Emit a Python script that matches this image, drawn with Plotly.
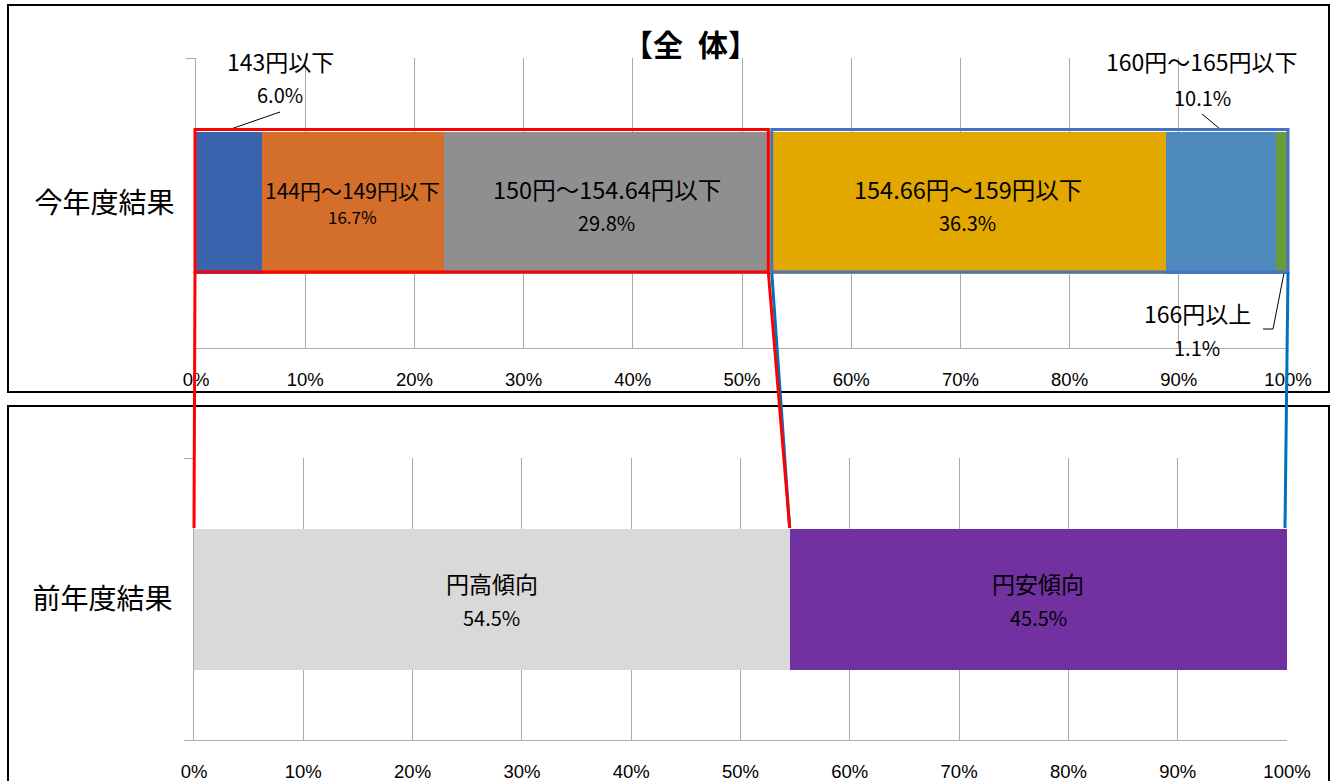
import plotly.graph_objects as go

# ---------------- data ----------------
this_year_labels = ["143円以下", "144円～149円以下", "150円～154.64円以下",
                    "154.66円～159円以下", "160円～165円以下", "166円以上"]
this_year_values = [6.0, 16.7, 29.8, 36.3, 10.1, 1.1]
this_year_colors = ["#3A63AD", "#D46F2B", "#8F8F8F", "#E2A800", "#4E89BD", "#6A9A3A"]

last_year_labels = ["円高傾向", "円安傾向"]
last_year_values = [54.5, 45.5]
last_year_colors = ["#D9D9D9", "#7131A0"]

cat_top = "今年度結果"
cat_bottom = "前年度結果"
title_text = "【全\u2002体】"
tick_vals = list(range(0, 101, 10))
tick_text = [f"{v}%" for v in tick_vals]

# ---------------- layout helpers ----------------
W, H = 1332, 781
def px(x): return x / W
def py(y): return 1 - y / H

XT0, XT1, YT0, YT1 = 196, 1288, 58, 348      # top plot area (pixels)
XB0, XB1, YB0, YB1 = 194, 1287, 458, 740     # bottom plot area (pixels)
def xt(v): return XT0 + v / 100 * (XT1 - XT0)
def xb(v): return XB0 + v / 100 * (XB1 - XB0)

JP = "Noto Sans CJK JP"
TICKF = "Liberation Sans, Arial"

fig = go.Figure()

for lab, val, col in zip(this_year_labels, this_year_values, this_year_colors):
    fig.add_trace(go.Bar(x=[val], y=[cat_top], orientation="h", name=lab,
                         marker=dict(color=col, line=dict(width=0)), width=0.49,
                         xaxis="x", yaxis="y", hoverinfo="skip"))
for lab, val, col in zip(last_year_labels, last_year_values, last_year_colors):
    fig.add_trace(go.Bar(x=[val], y=[cat_bottom], orientation="h", name=lab,
                         marker=dict(color=col, line=dict(width=0)), width=0.5,
                         xaxis="x2", yaxis="y2", hoverinfo="skip"))

grid = "#ABABAB"
xcommon = dict(range=[0, 100], tickmode="array", tickvals=tick_vals, ticktext=tick_text,
               showgrid=True, gridcolor=grid, gridwidth=1, showline=True, linecolor=grid,
               linewidth=1, zeroline=False, ticks="", ticklabelstandoff=15, automargin=False,
               tickfont=dict(family=TICKF, size=18.5, color="#000"), fixedrange=True)
ycommon = dict(type="category", range=[-0.5, 0.5], showgrid=False, showline=True,
               linecolor=grid, linewidth=1, ticks="outside", tickson="boundaries",
               ticklen=9, tickcolor=grid, ticklabelstandoff=15, automargin=False,
               tickfont=dict(family=JP, size=28, color="#000"), fixedrange=True)

fig.update_layout(
    width=W, height=H, autosize=False, margin=dict(l=0, r=0, t=0, b=0, pad=0),
    paper_bgcolor="white", plot_bgcolor="white", barmode="stack", showlegend=False,
    xaxis=dict(domain=[px(XT0), px(XT1)], anchor="y", **xcommon),
    yaxis=dict(domain=[py(YT1), py(YT0)], anchor="x", **ycommon),
    xaxis2=dict(domain=[px(XB0), px(XB1)], anchor="y2", **xcommon),
    yaxis2=dict(domain=[py(YB1), py(YB0)], anchor="x2", **ycommon),
)

# cumulative positions
cum_top = [0]
for v in this_year_values:
    cum_top.append(cum_top[-1] + v)
cum_bot = [0]
for v in last_year_values:
    cum_bot.append(cum_bot[-1] + v)

ann = []
def add_ann(**kw):
    kw.setdefault("xanchor", "center")
    kw.setdefault("yanchor", "middle")
    kw.setdefault("showarrow", False)
    ann.append(kw)

# inside labels (top)
inside = {1: (21, 17, 13, -13), 2: (23.5, 20, 14, -19), 3: (23.5, 20, 14, -19)}
for i, (fs, fs2, s1, s2) in inside.items():
    mid = (cum_top[i] + cum_top[i + 1]) / 2
    add_ann(x=mid, y=cat_top, xref="x", yref="y", text=this_year_labels[i],
            yshift=s1, font=dict(family=JP, size=fs, color="#000"))
    add_ann(x=mid, y=cat_top, xref="x", yref="y", text=f"{this_year_values[i]:.1f}%",
            yshift=s2, font=dict(family=JP, size=fs2, color="#000"))

# outside labels (top) with leader lines
outside = {0: (280, 61, 95), 4: (1202, 61, 97), 5: (1197, 313, 347)}
for i, (cx, y1, y2) in outside.items():
    add_ann(x=px(cx), y=py(y1), xref="paper", yref="paper", text=this_year_labels[i],
            font=dict(family=JP, size=23, color="#000"))
    add_ann(x=px(cx), y=py(y2), xref="paper", yref="paper", text=f"{this_year_values[i]:.1f}%",
            font=dict(family=JP, size=20, color="#000"))

# bottom labels
for i in range(2):
    mid = (cum_bot[i] + cum_bot[i + 1]) / 2
    add_ann(x=mid, y=cat_bottom, xref="x2", yref="y2", text=last_year_labels[i],
            yshift=16, font=dict(family=JP, size=23, color="#000"))
    add_ann(x=mid, y=cat_bottom, xref="x2", yref="y2", text=f"{last_year_values[i]:.1f}%",
            yshift=-18, font=dict(family=JP, size=20, color="#000"))

# title
add_ann(x=px(690), y=py(43), xref="paper", yref="paper", text=f"<b>{title_text}</b>",
        font=dict(family=JP, size=30, color="#000"))
fig.update_layout(annotations=ann)

shapes = []
def line(x0, y0, x1, y1, color, w):
    shapes.append(dict(type="line", xref="paper", yref="paper", x0=px(x0), y0=py(y0),
                       x1=px(x1), y1=py(y1), line=dict(color=color, width=w), layer="above"))
def rect(x0, y0, x1, y1, color, w):
    shapes.append(dict(type="rect", xref="paper", yref="paper", x0=px(x0), y0=py(y0),
                       x1=px(x1), y1=py(y1), line=dict(color=color, width=w),
                       fillcolor="rgba(0,0,0,0)", layer="above"))

# panel frames
rect(8, 5, 1329, 392, "#000", 2)
rect(8, 406, 1329, 790, "#000", 2)

# leader lines
line(280, 112, 228, 130, "#000", 1)
line(1202, 114, 1220, 129, "#000", 1)
line(1284, 273, 1273, 329, "#000", 1)
line(1273, 329, 1263, 329, "#000", 1)

# grouping boxes and connectors
split_top = cum_top[3]
split_bot = cum_bot[1]
red, blue_box, blue_line = "#FF0000", "#4472C4", "#0070C0"
rect(xt(0) - 1, 129.5, xt(split_top) - 1, 272, red, 3)
rect(xt(split_top) + 2.5, 129.5, xt(100), 272, blue_box, 3)
line(xt(split_top) + 2.5, 273, xb(split_bot), 528, blue_line, 3)
line(xt(100), 272, xb(100) - 2, 528, blue_line, 3)
line(xt(0) - 1, 272, xb(0), 528, red, 3)
line(xt(split_top) - 1, 272, xb(split_bot), 528, red, 3)

fig.update_layout(shapes=shapes)
fig.write_html("out.html", config={"displayModeBar": False},
               post_script="document.body.style.margin='0';document.body.style.overflow='hidden';")
